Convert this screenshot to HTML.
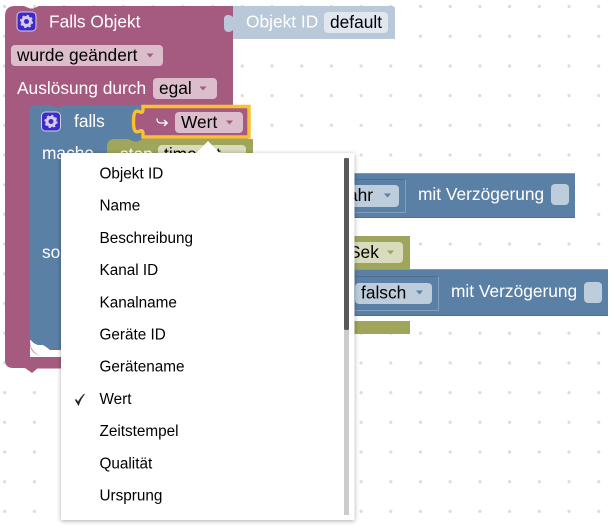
<!DOCTYPE html>
<html><head><meta charset="utf-8"><style>
html,body{margin:0;padding:0;background:#fff;width:614px;height:531px;overflow:hidden}
svg{display:block}
text{font-family:"Liberation Sans",sans-serif}
.w{fill:#fff;font-size:17.33px}
.b{fill:#000;font-size:17.33px}
.m{fill:#000;font-size:15.3px}
</style></head><body>
<svg width="614" height="531" viewBox="0 0 614 531" xmlns="http://www.w3.org/2000/svg">
<defs>
<pattern id="d" x="4.7" y="6.5" width="29.7" height="29.7" patternUnits="userSpaceOnUse">
<circle cx="0" cy="0" r="1.6" fill="#dcdcdc"/><circle cx="29.7" cy="0" r="1.6" fill="#dcdcdc"/><circle cx="0" cy="29.7" r="1.6" fill="#dcdcdc"/><circle cx="29.7" cy="29.7" r="1.6" fill="#dcdcdc"/>
</pattern>
<filter id="s" x="-10%" y="-10%" width="120%" height="120%"><feDropShadow dx="0" dy="1" stdDeviation="2.5" flood-color="#000" flood-opacity=".33"/></filter>
<g id="gear"><circle r="4" fill="none" stroke="#d7c8ef" stroke-width="3"/><circle r="5.600" fill="none" stroke="#d7c8ef" stroke-width="2" stroke-dasharray="2.2 2.2"/></g>
</defs>
<rect width="614" height="531" fill="#fff"/>
<rect width="614" height="531" fill="url(#d)"/>

<!-- Falls Objekt block -->
<path d="M15 6H24l6 2.500h3l6-2.500H233V120H100V357H50c-10 0-20-3-20-14V112H30V357H38V368H38l-6 5-7-5H13q-8 0-8-8V16q0-10 10-10z" fill="#a55b80"/>
<rect x="30" y="357" width="200" height="11.500" fill="#a55b80"/>
<path d="M30 340c0 8 3 14 14 17h20v-7H50l-6-5z" fill="#fff"/>

<!-- Objekt ID block -->
<path d="M233 6H392q3 0 3 3V39H233V30c-3 3-9 3-9-3v-8c0-5 6-5 9-2z" fill="#b9c9d9"/>
<text class="w" x="246" y="27.500">Objekt ID</text>
<rect x="324" y="12" width="64" height="21" rx="4" fill="#e0e7ef"/>
<text class="b" x="330" y="28">default</text>

<!-- falls block -->
<path d="M36 105H50l6 2.500h3l6-2.500H248V345H66l-5 5-5-2-5 2-8-5H38c-4-1-8-4-8-9V111q0-6 6-6z" fill="#5b80a5"/>

<rect x="17" y="12" width="19" height="19" rx="4" fill="#3d2bc9" stroke="#d9c8e5" stroke-width="1"/>
<use href="#gear" x="26.500" y="21.500"/>
<text class="w" x="49" y="27.500">Falls Objekt</text>
<rect x="11" y="45" width="152" height="21" rx="4" fill="#dbbdcc"/>
<text class="b" x="17" y="61">wurde geändert</text>
<path d="M146.500 53.500h7l-3.500 4z" fill="#a55b80"/>
<text class="w" x="17" y="94">Auslösung durch</text>
<rect x="153" y="78" width="64" height="21" rx="4" fill="#dbbdcc"/>
<text class="b" x="159" y="94">egal</text>
<path d="M199.500 86.500h7l-3.500 4z" fill="#a55b80"/>

<rect x="41.500" y="112" width="19" height="19" rx="4" fill="#3d2bc9" stroke="#c5d3e2" stroke-width="1"/>
<use href="#gear" x="51" y="121.500"/>
<text class="w" x="74" y="127">falls</text>
<text class="w" x="42" y="159">mache</text>
<text class="w" x="42" y="258">sonst</text>

<!-- stop block top -->
<path d="M115 139H128l6 2.500h3l6-2.500H253V160H107V147q0-8 8-8z" fill="#9fa55b"/>
<text class="w" x="120" y="160">stop</text>
<rect x="158" y="145" width="88" height="21" rx="4" fill="#d9dbbd"/>
<text class="b" x="164" y="160">timeout</text>

<!-- Wert block -->
<path d="M143 106.500H249V137H143V134c0-10-9.500 8-9.500-12.500s9.500-2.500 9.500-12.500z" fill="#a55b80" stroke="#fcc02e" stroke-width="3.400"/>
<path d="M157 118.500c0 3 1 4.500 4 4.500h6m-3-3l3.200 3-3.200 3" fill="none" stroke="#fff" stroke-width="1.300"/>
<rect x="175" y="112" width="68" height="21" rx="4" fill="#dbbdcc"/>
<text class="b" x="181" y="128">Wert</text>
<path d="M226 120.500h7l-3.500 4z" fill="#a55b80"/>

<!-- row 1 -->
<rect x="340" y="173" width="235" height="45" fill="#5b80a5"/>
<rect x="340" y="173" width="235" height="1" fill="#7e9ab8"/>
<rect x="340" y="217" width="235" height="1" fill="#4d6f91"/>
<path d="M340 179.500H405.500" stroke="#4d6f91" fill="none"/>
<path d="M405.500 179.500V212.500H340" stroke="#83a0bf" fill="none"/>
<rect x="340" y="185" width="59" height="22" rx="4" fill="#bdcddb"/>
<text class="b" x="348" y="201">ahr</text>
<path d="M384 193.500h7l-3.500 4z" fill="#5b80a5"/>
<text class="w" x="418" y="200">mit Verzögerung</text>
<rect x="551" y="184" width="18" height="21" rx="4" fill="#bdcddb"/>

<!-- Sek row -->
<rect x="340" y="236" width="70" height="33" fill="#9fa55b"/>
<rect x="340" y="242" width="63" height="21" rx="4" fill="#d9dbbd"/>
<text class="b" x="349" y="258">Sek</text>
<path d="M387 250.500h7l-3.500 4z" fill="#9fa55b"/>

<!-- row 2 -->
<rect x="340" y="269" width="268" height="47" fill="#5b80a5"/>
<rect x="340" y="269" width="268" height="1" fill="#7e9ab8"/>
<rect x="340" y="315" width="268" height="1" fill="#4d6f91"/>
<path d="M340 276.500H438.500" stroke="#4d6f91" fill="none"/>
<path d="M438.500 276.500V310.500H340" stroke="#83a0bf" fill="none"/>
<rect x="355" y="283" width="77" height="21" rx="4" fill="#bdcddb"/>
<text class="b" x="361" y="298.500">falsch</text>
<path d="M416 290.500h7l-3.500 4z" fill="#5b80a5"/>
<text class="w" x="451" y="297">mit Verzögerung</text>
<rect x="584" y="282" width="18" height="21" rx="4" fill="#bdcddb"/>

<rect x="340" y="321" width="70" height="13" fill="#9fa55b"/>

<!-- dropdown -->
<rect x="61" y="153" width="293.500" height="367" fill="#fff" filter="url(#s)"/>
<path d="M208 141l12 12.500H196z" fill="#fff"/>
<rect x="344" y="158" width="5" height="357" fill="#ccc"/>
<rect x="344" y="158" width="5" height="172" rx="1.500" fill="#595959"/>
<text class="m" x="99.500" y="178.500">Objekt ID</text>
<text class="m" x="99.500" y="210.700">Name</text>
<text class="m" x="99.500" y="242.900">Beschreibung</text>
<text class="m" x="99.500" y="275.100">Kanal ID</text>
<text class="m" x="99.500" y="307.300">Kanalname</text>
<text class="m" x="99.500" y="339.500">Geräte ID</text>
<text class="m" x="99.500" y="371.700">Gerätename</text>
<text class="m" x="99.500" y="403.900">Wert</text>
<text class="m" x="99.500" y="436.100">Zeitstempel</text>
<text class="m" x="99.500" y="468.300">Qualität</text>
<text class="m" x="99.500" y="500.500">Ursprung</text>
<path d="M75.500 400l3 5c1.500-4.500 3.500-8 6-11-3 2.500-5 6-6.500 8.500l-1.500-2.500z" fill="#222" stroke="#222" stroke-width=".9"/>
</svg>
</body></html>
